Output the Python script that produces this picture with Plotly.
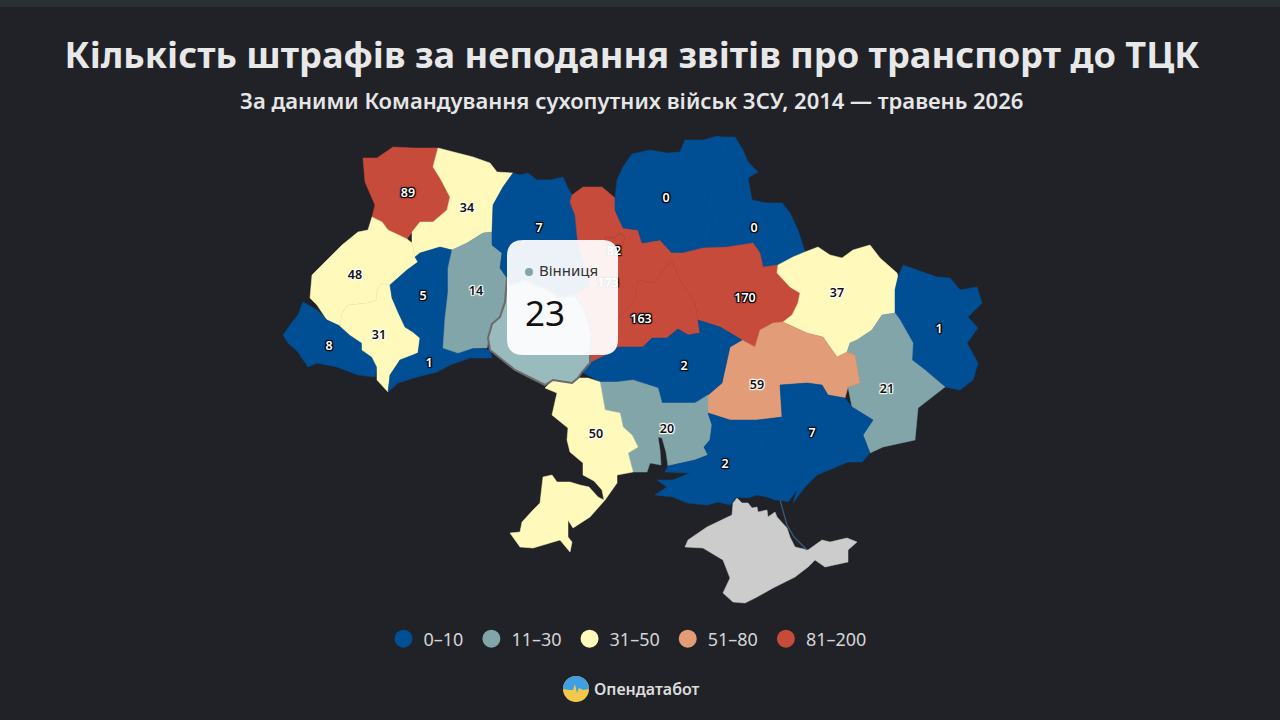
import math
import numpy as np
import plotly.graph_objects as go

# values
regions = ['Волинь', 'Рівне', 'Львів', 'Закарпаття', 'Івано-Франківськ', 'Тернопіль', 'Чернівці',
           'Хмельницький', 'Житомир', 'Київщина', 'Черкаси', 'Чернігів', 'Суми',
           'Полтава', 'Харків', 'Луганськ', 'Донецьк', 'Дніпро', 'Кропивницький', 'Миколаїв',
           'Херсон', 'Запоріжжя', 'Одеса', 'Київ']
values = [89, 34, 48, 8, 31, 5, 1, 14, 7, 173, 163, 0, 0, 170, 37, 1, 21, 59, 2, 20, 2, 7, 50, 82]

hover_region = 'Вінниця'
hover_value = 23

legend_labels = ['0–10', '11–30', '31–50', '51–80', '81–200']
legend_colors = ['#004f95', '#81a5a8', '#fff9bb', '#e29d78', '#c64b3b']
bin_tops = [10, 30, 50, 80, 200]

BG = '#202227'
NO_DATA = '#cccccc'
HOVER_FILL = '#9abbbe'
FONT = 'Noto Sans'

# region outlines traced from the sheet (x, y on the 1280x720 picture)
outlines = {
    'Волинь': [(363,158),(377,158),(393,147),(413,148),(438,148),(433,167),(440,178),(450,197),(447,210),(433,222),(420,222),(412,232),(407,239),(398,235),(388,230),(382,222),(372,217),(375,205),(365,182)],
    'Рівне': [(438,148),(457,153),(473,157),(490,163),(497,172),(513,173),(503,187),(493,205),(492,232),(483,233),(467,243),(452,250),(440,247),(420,253),(415,257),(412,243),(412,232),(420,222),(433,222),(447,210),(450,197),(440,178),(433,167)],
    'Львів': [(372,217),(382,222),(388,230),(398,235),(407,239),(412,243),(415,257),(418,262),(407,270),(398,278),(390,285),(382,283),(376,292),(377,300),(367,303),(348,305),(342,313),(340,326),(327,320),(317,305),(310,298),(312,275),(325,262),(342,245),(358,232),(368,230)],
    'Закарпаття': [(303,302),(317,310),(327,320),(340,326),(350,335),(362,343),(362,350),(372,357),(377,367),(375,377),(358,375),(337,367),(317,363),(308,367),(298,352),(288,343),(283,335),(290,325),(298,315)],
    'Івано-Франківськ': [(382,283),(390,285),(392,298),(398,312),(405,327),(413,332),(420,338),(418,353),(400,360),(390,375),(388,392),(377,380),(377,367),(372,357),(362,350),(362,343),(350,335),(340,326),(342,313),(348,305),(367,303),(377,300),(376,292)],
    'Тернопіль': [(418,262),(415,257),(420,253),(440,247),(452,250),(448,268),(448,292),(445,318),(443,348),(430,342),(420,338),(413,332),(405,327),(398,312),(392,298),(390,285),(398,278),(407,270)],
    'Чернівці': [(420,338),(430,342),(443,348),(458,353),(473,348),(490,350),(492,358),(470,358),(450,365),(437,372),(417,377),(398,383),(388,392),(390,375),(400,360),(418,353)],
    'Хмельницький': [(452,250),(467,243),(483,233),(492,232),(492,245),(502,253),(500,268),(507,278),(505,302),(500,317),(490,332),(487,348),(473,348),(458,353),(443,348),(445,318),(448,292),(448,268)],
    'Житомир': [(513,173),(520,175),(528,173),(537,180),(550,180),(563,177),(568,188),(572,195),(570,202),(575,215),(577,235),(578,245),(585,265),(590,285),(575,295),(560,298),(548,290),(525,280),(510,285),(507,278),(500,268),(502,253),(492,245),(492,232),(493,205),(503,187)],
    'Київщина': [(570,202),(572,195),(583,187),(602,187),(615,198),(615,210),(623,228),(638,230),(642,243),(660,240),(672,253),(672,260),(663,270),(655,283),(638,280),(635,300),(623,313),(620,317),(600,320),(585,310),(575,295),(590,285),(585,265),(578,245),(577,235),(575,215)],
    'Черкаси': [(672,260),(680,280),(695,303),(698,320),(700,333),(688,335),(678,329),(667,338),(652,338),(643,347),(630,347),(618,347),(610,353),(590,363),(590,352),(592,335),(585,310),(600,320),(620,317),(623,313),(635,300),(638,280),(655,283),(663,270)],
    'Чернігів': [(617,180),(623,167),(632,154),(650,150),(667,153),(680,152),(685,140),(703,140),(717,136),(722,137),(720,150),(710,167),(710,187),(705,207),(713,213),(710,240),(703,248),(683,253),(672,253),(660,240),(642,243),(638,230),(623,228),(615,210),(615,198)],
    'Суми': [(722,137),(735,137),(743,150),(748,162),(758,172),(748,178),(752,200),(767,203),(782,203),(790,213),(798,230),(805,252),(793,257),(778,265),(763,267),(760,253),(753,243),(740,245),(727,247),(703,248),(710,240),(713,213),(705,207),(710,187),(710,167),(720,150)],
    'Полтава': [(672,253),(683,253),(703,248),(727,247),(740,245),(753,243),(760,253),(763,267),(778,265),(777,273),(790,287),(800,293),(798,303),(792,315),(783,322),(773,323),(760,330),(755,347),(742,340),(720,327),(698,320),(695,303),(680,280),(672,260)],
    'Харків': [(778,265),(793,257),(805,252),(818,247),(830,255),(842,258),(853,250),(870,245),(880,258),(897,273),(898,277),(895,290),(895,313),(882,315),(872,330),(857,340),(850,343),(847,352),(837,357),(823,337),(807,333),(783,322),(792,315),(798,303),(800,293),(790,287),(777,273)],
    'Луганськ': [(903,265),(917,270),(937,277),(950,278),(960,290),(977,287),(982,303),(968,317),(978,328),(967,343),(978,363),(973,380),(960,390),(945,387),(925,370),(912,360),(913,343),(900,320),(895,313),(895,290),(898,277)],
    'Донецьк': [(882,315),(895,313),(900,320),(913,343),(912,360),(925,370),(945,387),(918,408),(915,440),(883,447),(870,453),(863,435),(873,420),(852,407),(848,387),(860,383),(858,372),(855,355),(847,352),(850,343),(857,340),(872,330)],
    'Дніпро': [(730,347),(742,340),(755,347),(760,330),(773,323),(783,322),(807,333),(823,337),(837,357),(847,352),(855,355),(858,372),(860,383),(848,387),(845,398),(828,395),(822,385),(807,383),(780,385),(782,417),(757,420),(730,420),(708,413),(708,395),(722,383),(727,360)],
    'Кропивницький': [(582,372),(590,363),(610,353),(618,347),(630,347),(643,347),(652,338),(667,338),(678,329),(688,335),(700,333),(698,320),(720,327),(742,340),(730,347),(727,360),(722,383),(708,395),(695,403),(673,403),(662,403),(658,388),(633,380),(617,382),(600,382)],
    'Миколаїв': [(600,382),(617,382),(633,380),(658,388),(662,403),(673,403),(695,403),(708,395),(708,413),(712,425),(710,440),(704,447),(708,455),(695,460),(668,466),(666,452),(662,438),(658,437),(660,450),(661,465),(650,463),(647,472),(633,472),(628,453),(638,447),(632,435),(623,427),(620,413),(605,410)],
    'Херсон': [(708,413),(730,420),(757,420),(763,437),(773,457),(777,473),(787,483),(798,480),(797,490),(788,502),(780,500),(775,500),(767,497),(757,495),(748,498),(737,497),(730,505),(718,502),(707,505),(687,503),(673,497),(655,495),(667,487),(657,480),(673,480),(690,473),(665,472),(668,466),(695,460),(708,455),(704,447),(710,440),(712,425)],
    'Запоріжжя': [(757,420),(782,417),(780,385),(807,383),(822,385),(828,395),(845,398),(852,407),(873,420),(863,435),(870,453),(862,462),(848,462),(833,468),(817,475),(805,487),(793,503),(797,490),(798,480),(787,483),(777,473),(773,457),(763,437)],
    'Одеса': [(545,388),(553,380),(572,383),(578,378),(588,378),(600,382),(605,410),(620,413),(623,427),(632,435),(638,447),(628,453),(633,472),(617,475),(617,483),(605,500),(590,517),(573,528),(568,520),(568,537),(572,542),(570,552),(560,540),(533,548),(520,547),(510,533),(520,532),(522,522),(533,510),(540,503),(543,477),(552,475),(557,482),(570,482),(580,485),(589,487),(598,497),(604,500),(602,490),(594,481),(583,475),(583,463),(570,452),(567,440),(568,428),(552,415),(557,393)],
    'Київ': [(605,237),(615,238),(620,233),(625,238),(622,247),(617,253),(608,248)],
}
vinnytsia = [(490,350),(488,338),(492,324),(500,317),(505,302),(507,278),(510,285),(525,280),(548,290),(560,298),(575,295),(585,310),(592,335),(590,352),(590,363),(582,372),(578,378),(572,383),(553,380),(545,385),(533,379),(515,370),(500,358)]
crimea = [(733,503),(737,498),(742,503),(748,503),(752,508),(757,507),(758,512),(767,510),(768,517),(775,512),(777,517),(782,522),(787,528),(790,537),(795,547),(808,550),(822,540),(830,542),(847,538),(857,542),(848,550),(848,562),(825,567),(815,560),(808,567),(795,577),(773,588),(757,597),(745,603),(733,602),(723,593),(730,578),(723,560),(703,548),(685,547),(688,540),(707,527),(732,515)]
arabat_spit = [(780,500),(787,525),(794,537),(807,550)]

# where the number of each region sits on the sheet
label_spots = {
    'Волинь': (408,194), 'Рівне': (467,209), 'Львів': (355,276), 'Закарпаття': (329,347),
    'Івано-Франківськ': (379,336), 'Тернопіль': (423,297), 'Чернівці': (429,364),
    'Хмельницький': (476,292), 'Житомир': (539,229), 'Київщина': (608,284), 'Черкаси': (641,320),
    'Чернігів': (666,199), 'Суми': (754,229), 'Полтава': (745,299), 'Харків': (837,294),
    'Луганськ': (939,330), 'Донецьк': (887,390), 'Дніпро': (757,386), 'Кропивницький': (684,367),
    'Миколаїв': (667,430), 'Херсон': (725,465), 'Запоріжжя': (812,434), 'Одеса': (596,435),
    'Київ': (614,252),
}


def bin_color(v):
    for top, c in zip(bin_tops, legend_colors):
        if v <= top:
            return c
    return legend_colors[-1]


def region_trace(name, pts, fill, line, width, hover=True):
    xs = [p[0] for p in pts] + [pts[0][0]]
    ys = [p[1] for p in pts] + [pts[0][1]]
    return go.Scatter(x=xs, y=ys, name=name, mode='lines', fill='toself', fillcolor=fill,
                      line=dict(color=line, width=width), showlegend=False,
                      hoverinfo='name' if hover else 'skip')


fig = go.Figure()

fig.add_trace(region_trace('Крим', crimea, NO_DATA, NO_DATA, 0.5, hover=False))
fig.add_trace(go.Scatter(x=[p[0] for p in arabat_spit], y=[p[1] for p in arabat_spit], mode='lines',
                         line=dict(color='#3d5f80', width=1.2), showlegend=False, hoverinfo='skip'))
for name, v in zip(regions, values):
    c = bin_color(v)
    line = '#a23a2c' if name == 'Київ' else c
    fig.add_trace(region_trace(f'{name}: {v}', outlines[name], c, line, 0.5))
fig.add_trace(region_trace(f'{hover_region}: {hover_value}', vinnytsia, HOVER_FILL, '#6b6b6b', 2))

# numbers on the map, white on dark fills and dark on pale ones
dark_halo = '1px 1px 1px #000, -1px -1px 1px #000, 1px -1px 1px #000, -1px 1px 1px #000, 0 0 2px #000'
pale_halo = '1px 1px 1px #fff, -1px -1px 1px #fff, 1px -1px 1px #fff, -1px 1px 1px #fff, 0 0 2px #fff'
for on_dark in (True, False):
    picked = [(n, v) for n, v in zip(regions, values) if (v <= 10 or v > 80) == on_dark]
    fig.add_trace(go.Scatter(
        x=[label_spots[n][0] for n, v in picked],
        y=[label_spots[n][1] for n, v in picked],
        text=[str(v) for n, v in picked], mode='text', showlegend=False, hoverinfo='skip',
        textfont=dict(family=FONT, size=12.5, weight=600,
                      color='#ffffff' if on_dark else '#111111',
                      shadow=dark_halo if on_dark else pale_halo)))

# legend
for lab, c in zip(legend_labels, legend_colors):
    fig.add_trace(go.Scatter(x=[None], y=[None], mode='markers', name=lab + '\u2009',
                             marker=dict(color=c, size=16, line=dict(color=c, width=2))))


def rounded_box(x0, y0, x1, y1, r):
    return (f'M {x0+r},{y0} L {x1-r},{y0} Q {x1},{y0} {x1},{y0+r} L {x1},{y1-r} Q {x1},{y1} {x1-r},{y1} '
            f'L {x0+r},{y1} Q {x0},{y1} {x0},{y1-r} L {x0},{y0+r} Q {x0},{y0} {x0+r},{y0} Z')


def logo_sky(cx, cy, r):
    # upper half of the logo, closed along a small pulse line
    arc = [(cx + r * np.cos(t), cy - r * np.sin(t)) for t in np.linspace(0, math.pi, 30)]
    pulse = [(-7, 1), (-3, 1), (-1, -5), (1, 4), (3, -1), (7, 1)]
    pts = arc + [(cx + dx, cy + dy) for dx, dy in pulse]
    return 'M ' + ' L '.join(f'{x},{y}' for x, y in pts) + ' Z'


LOGO = (576, 689, 13)
shapes = [
    # strip along the top of the page
    dict(type='rect', x0=0, x1=1280, y0=0, y1=7, fillcolor='#2b3036', line_width=0, layer='below'),
    # tooltip card
    dict(type='path', path=rounded_box(507, 240, 618, 355, 16), fillcolor='rgba(255,255,255,0.93)', line_width=0),
    dict(type='circle', x0=525, x1=533, y0=268, y1=276, fillcolor=legend_colors[1], line_width=0),
    # logo
    dict(type='circle', x0=LOGO[0] - LOGO[2], x1=LOGO[0] + LOGO[2], y0=LOGO[1] - LOGO[2], y1=LOGO[1] + LOGO[2],
         fillcolor='#f2c94c', line_width=0),
    dict(type='path', path=logo_sky(*LOGO), fillcolor='#3f9fe0', line_width=0),
]
for s in shapes:
    s.update(xref='x', yref='y')

annotations = [
    dict(text='За даними Командування сухопутних військ ЗСУ, 2014 — травень 2026', x=631.5, y=100,
         font=dict(family=FONT, size=22, color='#e6e6e6', weight=600)),
    dict(text='Вінниця', x=537, y=270, xanchor='left', font=dict(family=FONT, size=15, color='#333333')),
    dict(text='23', x=523, y=312, xanchor='left', font=dict(family=FONT, size=35, color='#111111')),
    dict(text='Опендатабот', x=592, y=689, xanchor='left', font=dict(family=FONT, size=16, color='#dddddd', weight=600)),
]
for a in annotations:
    a.update(xref='x', yref='y', showarrow=False, yanchor='middle')
    a.setdefault('xanchor', 'center')

fig.update_layout(
    width=1280, height=720, margin=dict(l=0, r=0, t=0, b=0),
    paper_bgcolor=BG, plot_bgcolor=BG,
    title=dict(text='<b>Кількість штрафів за неподання звітів про транспорт до ТЦК</b>',
               x=632 / 1280, xanchor='center', xref='paper', y=1 - 55 / 720, yanchor='middle', yref='paper',
               font=dict(family=FONT, size=36.2, color='#e8e8e8')),
    xaxis=dict(range=[0, 1280], visible=False, fixedrange=True),
    yaxis=dict(range=[720, 0], visible=False, fixedrange=True),
    legend=dict(orientation='h', x=629 / 1280, xanchor='center', y=1 - 639 / 720, yanchor='middle',
                font=dict(family=FONT, size=18, color='#d5d5d5'),
                bgcolor='rgba(0,0,0,0)'),
    shapes=shapes, annotations=annotations,
)

fig.write_html("out.html", config={'displayModeBar': False},
               post_script="document.body.style.margin='0';document.body.style.background='#202227';")
